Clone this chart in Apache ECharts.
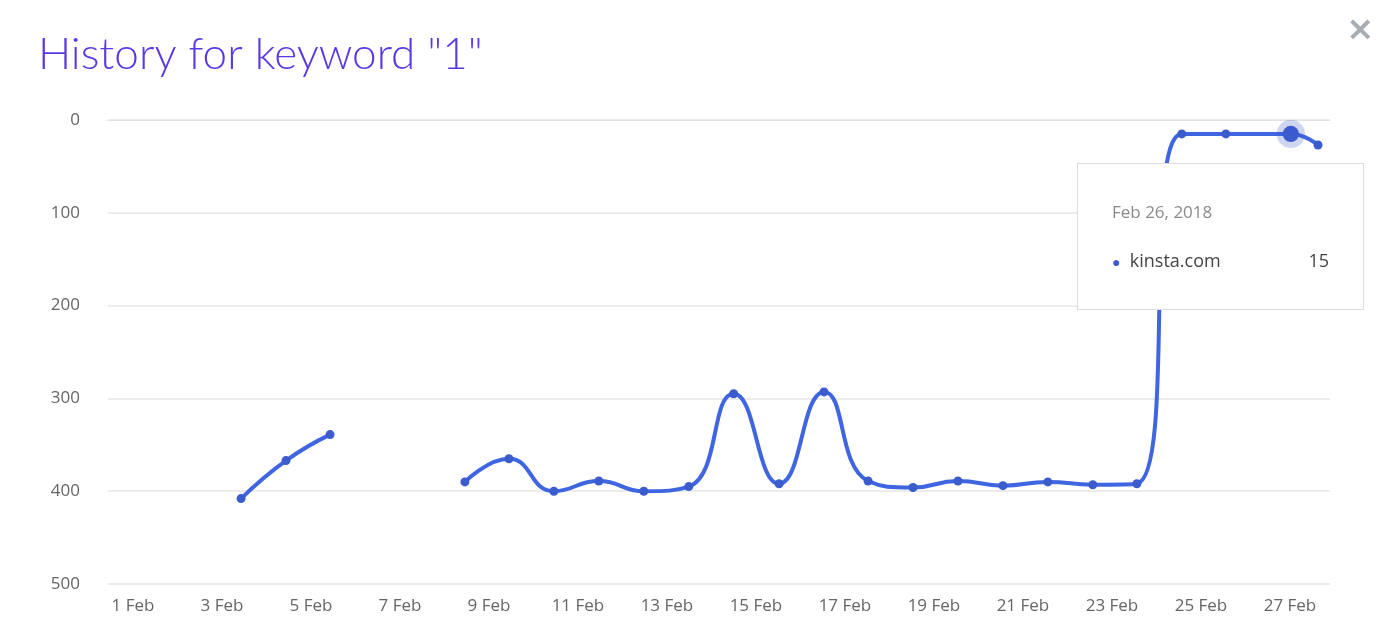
<!DOCTYPE html>
<html><head><meta charset="utf-8">
<script src="https://cdn.jsdelivr.net/npm/echarts@6/dist/echarts.min.js"></script>
<style>html,body{margin:0;padding:0;background:#fff}#c{width:1384px;height:643px}</style>
</head><body><div id="c"></div>
<script>
const xDays = [3.43,4.44,5.43,6.9,8.46,9.45,10.46,11.47,12.48,13.49,14.5,15.52,16.53,17.52,18.53,19.54,20.55,21.56,22.57,23.56,24.57,25.56,27.02,27.63];
const ranks = [408,367,339,null,390,365,400,389,400,395,295,392,293,389,396,389,394,390,393,392,15,15,15,27];
const tickLabels = ['1 Feb','3 Feb','5 Feb','7 Feb','9 Feb','11 Feb','13 Feb','15 Feb','17 Feb','19 Feb','21 Feb','23 Feb','25 Feb','27 Feb'];
const seriesName = 'kinsta.com';
const tipDate = 'Feb 26, 2018';
const data = xDays.map((d,i)=>[d,ranks[i]]);
const chart = echarts.init(document.getElementById('c'));
chart.setOption({
  animation:false,
  title:{text:'History for keyword "1"',left:33,top:28,textStyle:{color:'#5a38e6',fontSize:44,fontWeight:300,fontFamily:'Lato'}},
  graphic:[{type:'text',left:1346,top:14,style:{text:'×',fontSize:34,fill:'#a8acb3',fontWeight:'bold',fontFamily:'DejaVu Sans'}}],
  grid:{left:108,right:54,top:120,bottom:59},
  tooltip:{trigger:'item',alwaysShowContent:true,position:[1077,163],backgroundColor:'#fff',borderColor:'#dddddd',borderWidth:1,padding:0,extraCssText:'box-shadow:none;border-radius:0;',
    formatter:p=>`<div style="width:285px;height:145px;padding:36px 34px 0 34px;box-sizing:border-box;font-family:'Open Sans';"><div style="color:#8a8a8a;font-size:17px;line-height:24px">${tipDate}</div><div style="margin-top:24px;font-size:18px;line-height:24px;color:#444;display:flex;justify-content:space-between"><span><span style="color:#3a5ccc;font-size:14px">●</span>&nbsp; ${seriesName}</span><span>${p.value[1]}</span></div></div>`},
  xAxis:{type:'value',min:0.44,max:27.9,interval:2,
    axisLine:{lineStyle:{color:'#e3e3e3'}},axisTick:{show:false},splitLine:{show:false},
    axisLabel:{color:'#666',fontSize:17,fontFamily:'Open Sans',margin:14,showMinLabel:true,showMaxLabel:true,
      customValues:tickLabels.map((t,i)=>1+2*i),formatter:v=>tickLabels[Math.round((v-1)/2)]||''}},
  yAxis:{type:'value',inverse:true,min:0,max:500,interval:100,
    axisLine:{show:false},axisTick:{show:false},
    splitLine:{lineStyle:{color:'#e6e6e6',width:1.5}},
    axisLabel:{color:'#666',fontSize:17,fontFamily:'Open Sans',margin:28}},
  series:[{name:seriesName,type:'line',data:data,smooth:0.5,connectNulls:false,
    symbol:'circle',symbolSize:9,showAllSymbol:true,
    lineStyle:{color:'#3a5ccc',width:4},itemStyle:{color:'#3a5ccc'},
    emphasis:{scale:1.8,itemStyle:{color:'#3a5ccc',borderColor:'rgba(58,92,204,0.25)',borderWidth:12}}}]
});
chart.dispatchAction({type:'showTip',seriesIndex:0,dataIndex:22});
chart.dispatchAction({type:'highlight',seriesIndex:0,dataIndex:22});
</script></body></html>
